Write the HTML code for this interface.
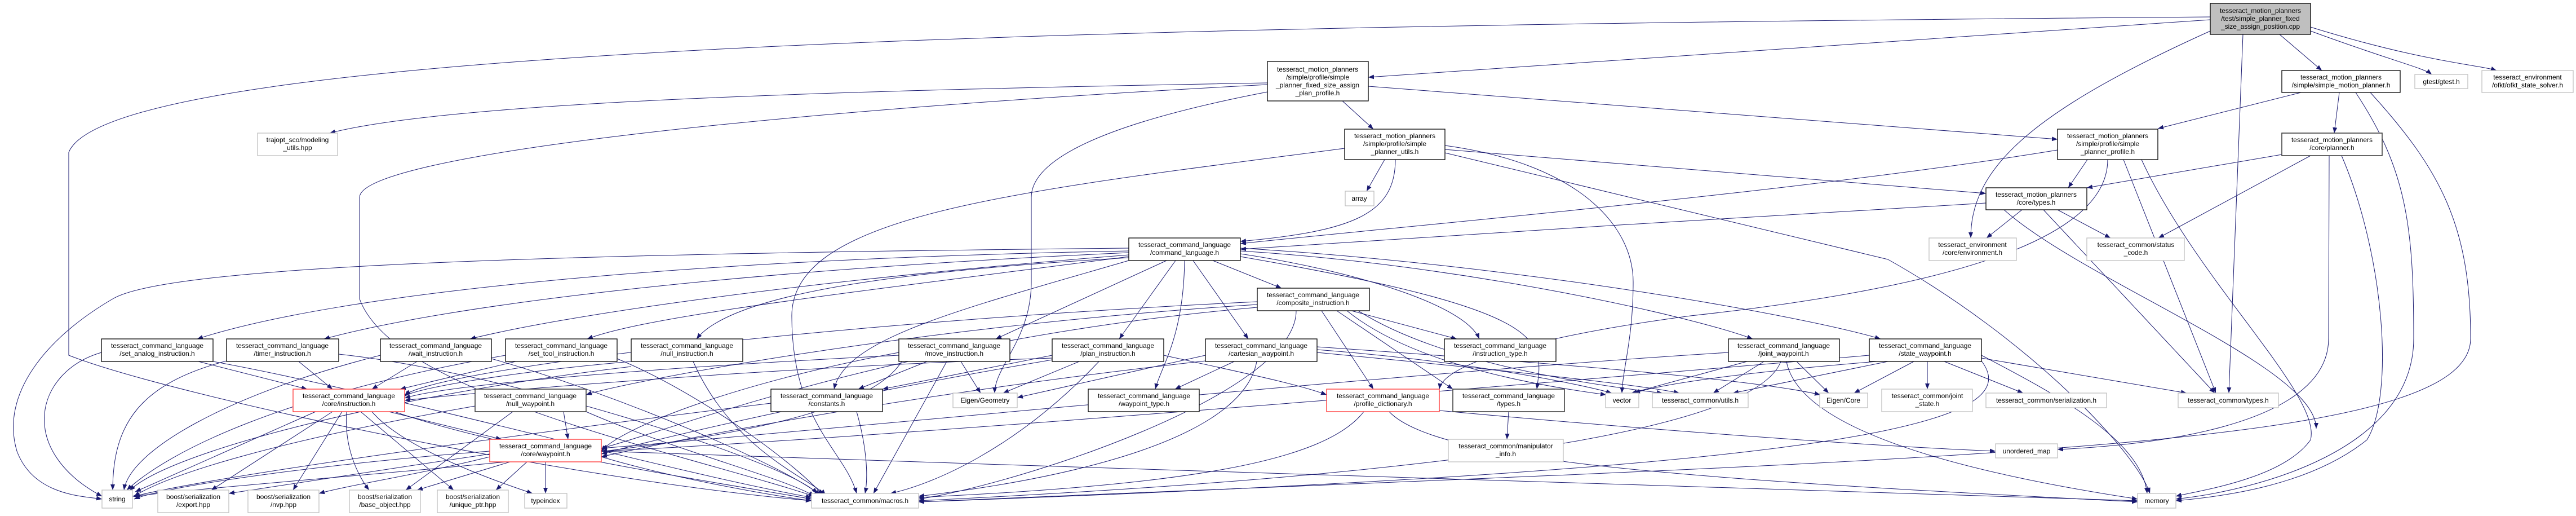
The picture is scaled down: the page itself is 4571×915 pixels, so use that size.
<!DOCTYPE html>
<html><head><meta charset="utf-8"><style>
html,body{margin:0;padding:0;background:#fff;}
svg{display:block;}
text{font-family:"Liberation Sans",Arial,sans-serif;font-size:12px;fill:#000;text-anchor:middle;}
.n{fill:#fff;stroke:#000;stroke-width:1.3;}
.g{fill:#fff;stroke:#bfbfbf;stroke-width:1.3;}
.r{fill:#fff;stroke:#ff3030;stroke-width:1.3;}
.d{fill:#fff;stroke:#404040;stroke-width:1.6;}
.e path{fill:none;stroke:#191970;stroke-width:1;marker-end:url(#a);}
</style></head><body>
<svg width="4571" height="915" viewBox="0 0 4571 915" xmlns="http://www.w3.org/2000/svg">
<defs><marker id="a" markerWidth="10" markerHeight="8" refX="10" refY="4" orient="auto" markerUnits="userSpaceOnUse"><path d="M0,0 L10,4 L0,8z" fill="#191970"/></marker></defs>
<g class="e">
<path d="M3922,35 L2428,137"/>
<path d="M3922,30 C2000,45 200,80 122,270 L122,630 C300,700 1000,850 1440,888"/>
<path d="M3922,55 C3600,200 3497,300 3497,422"/>
<path d="M3980,61 L3955,697"/>
<path d="M4045,61 L4120,125"/>
<path d="M4100,55 C4250,110 4300,120 4315,132"/>
<path d="M4100,48 C4300,110 4400,115 4430,125"/>
<path d="M2382,179 L2437,229"/>
<path d="M2428,153 L3651,247"/>
<path d="M2249,147 C1500,160 800,180 585,236"/>
<path d="M2249,163 C1900,230 1830,300 1830,350 L1830,500 C1830,600 1765,650 1765,697"/>
<path d="M2249,150 C1300,200 638,280 638,350 L638,530 C700,700 1200,800 1445,880"/>
<path d="M2457,283 L2425,339"/>
<path d="M2476,283 C2476,380 2400,410 2201,428"/>
<path d="M2564,265 L3524,343"/>
<path d="M2386,263 C1800,340 1405,380 1405,560 C1405,750 1500,800 1520,875"/>
<path d="M2564,258 C2800,290 2898,400 2898,500 C2898,600 2880,650 2878,697"/>
<path d="M2564,271 L3350,460 C3600,600 3790,800 3815,875"/>
<path d="M4083,164 L3829,228"/>
<path d="M4151,164 L4142,236"/>
<path d="M4180,164 C4270,300 4283,400 4283,600 C4283,800 4000,870 3861,885"/>
<path d="M4206,164 C4330,300 4384,400 4384,600 C4384,800 3500,810 1630,890"/>
<path d="M4049,274 L3703,333"/>
<path d="M4100,276 L3830,422"/>
<path d="M4133,276 L4132,600 C4132,760 3800,790 3651,797"/>
<path d="M4155,276 C4230,450 4250,700 4200,780 C4100,860 3950,880 3861,888"/>
<path d="M3704,283 L3670,333"/>
<path d="M3651,266 C3200,340 2500,400 2201,432"/>
<path d="M3740,283 C3740,400 3550,500 3000,560 C2700,600 2560,650 2554,690"/>
<path d="M3768,283 L3932,697"/>
<path d="M3800,283 C3900,500 4120,700 4100,780 C4050,850 3900,870 3861,880"/>
<path d="M3588,372 L3525,422"/>
<path d="M3651,372 L3745,422"/>
<path d="M3626,372 L3930,697"/>
<path d="M3524,360 C3200,380 2500,420 2201,442"/>
<path d="M3556,372 C3700,500 4110,650 4110,760"/>
<path d="M2003,445 C1200,460 600,520 350,601"/>
<path d="M2003,448 C1300,480 800,540 575,601"/>
<path d="M2003,452 C1400,500 1000,560 834,601"/>
<path d="M2003,455 C1500,520 1150,560 1042,601"/>
<path d="M2003,457 C1600,480 1300,520 1236,601"/>
<path d="M2070,462 L1767,601"/>
<path d="M2086,462 L1986,601"/>
<path d="M2117,462 L2215,601"/>
<path d="M2152,462 L2274,511"/>
<path d="M2201,450 C2400,480 2600,540 2625,601"/>
<path d="M2201,445 C2600,470 3000,560 3110,601"/>
<path d="M2201,440 C2700,470 3200,560 3337,601"/>
<path d="M2003,462 C1700,550 1500,600 1480,690"/>
<path d="M2102,462 C2100,600 2060,650 2050,690"/>
<path d="M2201,455 C2750,550 2740,600 2727,690"/>
<path d="M2003,440 C1000,450 300,470 200,530 C80,600 0,700 30,800 C60,880 150,880 181,885"/>
<path d="M2398,551 L2585,601"/>
<path d="M2345,551 L2437,690"/>
<path d="M2372,551 L2578,690"/>
<path d="M2390,551 C2500,640 2700,680 2850,700"/>
<path d="M2410,551 C2550,640 2800,680 2950,697"/>
<path d="M2231,535 C1500,570 800,650 718,700"/>
<path d="M2231,540 C1600,580 1100,680 1040,700"/>
<path d="M2231,545 C1600,600 1200,760 1067,795"/>
<path d="M2300,551 C2300,700 1800,860 1630,885"/>
<path d="M352,641 L545,690"/>
<path d="M180,625 C60,660 30,800 181,880"/>
<path d="M378,641 C700,700 1200,840 1440,882"/>
<path d="M530,641 L590,690"/>
<path d="M402,640 C250,680 200,750 200,869"/>
<path d="M601,628 C900,660 1400,820 1450,875"/>
<path d="M740,641 L660,690"/>
<path d="M675,630 C400,700 230,800 220,869"/>
<path d="M872,636 C1100,700 1400,830 1455,878"/>
<path d="M915,641 L710,690"/>
<path d="M897,630 C500,700 300,800 225,869"/>
<path d="M1095,636 C1250,700 1420,830 1460,878"/>
<path d="M1120,641 C900,660 730,690 718,703"/>
<path d="M1230,641 C1300,800 1440,850 1465,878"/>
<path d="M1120,650 C700,700 300,800 230,870"/>
<path d="M1645,641 L1523,690"/>
<path d="M1705,641 L1740,697"/>
<path d="M1595,630 C1200,650 800,680 718,706"/>
<path d="M1595,625 C1300,680 1100,760 1067,800"/>
<path d="M1680,641 L1550,875"/>
<path d="M1600,641 C1500,800 800,820 235,880"/>
<path d="M1915,641 L1780,697"/>
<path d="M1867,630 L1566,690"/>
<path d="M1867,635 C1400,650 900,690 718,710"/>
<path d="M1867,638 C1500,700 1200,770 1067,805"/>
<path d="M1950,641 C1800,800 1650,860 1580,875"/>
<path d="M2065,630 C2200,660 2300,680 2354,700"/>
<path d="M2190,641 L2085,690"/>
<path d="M2139,630 L1805,705"/>
<path d="M2337,620 C2600,640 2800,680 2860,697"/>
<path d="M2337,615 C2700,640 3100,670 3230,700"/>
<path d="M2337,625 C2600,650 2900,680 2980,697"/>
<path d="M2139,640 C1600,700 1200,780 1067,810"/>
<path d="M2230,641 C2200,800 1800,860 1630,880"/>
<path d="M3100,641 L2895,697"/>
<path d="M3130,641 L3040,697"/>
<path d="M3188,641 L3245,697"/>
<path d="M3067,625 C2500,660 1500,760 1067,795"/>
<path d="M3160,641 C3100,800 2200,860 1630,888"/>
<path d="M3170,641 C3200,800 3700,870 3793,885"/>
<path d="M3330,641 C3100,660 2950,680 2900,697"/>
<path d="M3350,641 L3075,697"/>
<path d="M3396,641 L3290,697"/>
<path d="M3420,641 L3420,690"/>
<path d="M3450,641 L3590,697"/>
<path d="M3516,635 L3880,697"/>
<path d="M3516,630 C3650,700 3800,780 3810,875"/>
<path d="M3516,640 C3600,750 3300,830 1630,890"/>
<path d="M3317,630 C2500,700 1500,780 1067,800"/>
<path d="M560,730 L240,872"/>
<path d="M590,730 L375,869"/>
<path d="M607,730 L520,869"/>
<path d="M615,730 C610,800 640,850 655,869"/>
<path d="M640,730 L805,869"/>
<path d="M660,730 C720,800 900,860 945,875"/>
<path d="M690,730 L890,779"/>
<path d="M700,730 C900,800 1300,860 1440,885"/>
<path d="M1000,730 L1008,779"/>
<path d="M910,730 L720,869"/>
<path d="M1040,730 C1200,800 1400,850 1445,880"/>
<path d="M843,720 C500,780 300,840 238,880"/>
<path d="M869,800 C600,820 300,860 238,885"/>
<path d="M869,805 C700,830 500,860 406,875"/>
<path d="M869,810 C750,840 620,860 566,875"/>
<path d="M905,819 L740,869"/>
<path d="M935,819 L880,869"/>
<path d="M968,819 L968,875"/>
<path d="M1067,810 C1200,850 1380,880 1440,888"/>
<path d="M1067,800 C2000,830 3000,870 3793,888"/>
<path d="M2677,730 L2674,779"/>
<path d="M2554,728 C2900,760 3300,790 3541,800"/>
<path d="M2420,730 C2350,820 2100,860 1630,882"/>
<path d="M2465,730 C2550,820 3000,850 3793,890"/>
<path d="M1520,730 C1540,800 1540,850 1535,875"/>
<path d="M1368,715 C1000,760 400,840 238,880"/>
</g>
<!-- nodes -->
<rect class="n" x="3922" y="6" width="178" height="55" style="fill:#bfbfbf"/>
<text x="4011" y="23">tesseract_motion_planners</text><text x="4011" y="37">/test/simple_planner_fixed</text><text x="4011" y="51">_size_assign_position.cpp</text>
<rect class="n" x="4049" y="125" width="210" height="39"/>
<text x="4154" y="141">tesseract_motion_planners</text><text x="4154" y="155">/simple/simple_motion_planner.h</text>
<rect class="g" x="4285" y="132" width="94" height="25"/><text x="4332" y="149">gtest/gtest.h</text>
<rect class="g" x="4404" y="125" width="162" height="39"/>
<text x="4485" y="141">tesseract_environment</text><text x="4485" y="155">/ofkt/ofkt_state_solver.h</text>
<rect class="n" x="3651" y="229" width="178" height="54"/>
<text x="3740" y="245">tesseract_motion_planners</text><text x="3740" y="259">/simple/profile/simple</text><text x="3740" y="273">_planner_profile.h</text>
<rect class="d" x="4049" y="236" width="178" height="40"/>
<text x="4138" y="252">tesseract_motion_planners</text><text x="4138" y="266">/core/planner.h</text>
<rect class="n" x="3524" y="333" width="179" height="39"/>
<text x="3613" y="349">tesseract_motion_planners</text><text x="3613" y="363">/core/types.h</text>
<rect class="g" x="3423" y="422" width="155" height="40"/>
<text x="3500" y="438">tesseract_environment</text><text x="3500" y="452">/core/environment.h</text>
<rect class="g" x="3703" y="422" width="173" height="40"/>
<text x="3790" y="438">tesseract_common/status</text><text x="3790" y="452">_code.h</text>
<rect class="n" x="2249" y="109" width="179" height="70"/>
<text x="2338" y="127">tesseract_motion_planners</text><text x="2338" y="141">/simple/profile/simple</text><text x="2338" y="155">_planner_fixed_size_assign</text><text x="2338" y="169">_plan_profile.h</text>
<rect class="n" x="2386" y="229" width="178" height="54"/>
<text x="2475" y="245">tesseract_motion_planners</text><text x="2475" y="259">/simple/profile/simple</text><text x="2475" y="273">_planner_utils.h</text>
<rect class="g" x="2387" y="339" width="51" height="26"/><text x="2412" y="356">array</text>
<rect class="g" x="457" y="236" width="142" height="40"/>
<text x="528" y="252">trajopt_sco/modeling</text><text x="528" y="266">_utils.hpp</text>
<rect class="n" x="2003" y="422" width="198" height="40"/>
<text x="2102" y="438">tesseract_command_language</text><text x="2102" y="452">/command_language.h</text>
<rect class="n" x="2231" y="511" width="199" height="40"/>
<text x="2330" y="527">tesseract_command_language</text><text x="2330" y="541">/composite_instruction.h</text>
<rect class="n" x="180" y="601" width="198" height="40"/>
<text x="279" y="617">tesseract_command_language</text><text x="279" y="631">/set_analog_instruction.h</text>
<rect class="n" x="402" y="601" width="199" height="40"/>
<text x="501" y="617">tesseract_command_language</text><text x="501" y="631">/timer_instruction.h</text>
<rect class="n" x="675" y="601" width="197" height="40"/>
<text x="773" y="617">tesseract_command_language</text><text x="773" y="631">/wait_instruction.h</text>
<rect class="n" x="897" y="601" width="198" height="40"/>
<text x="996" y="617">tesseract_command_language</text><text x="996" y="631">/set_tool_instruction.h</text>
<rect class="n" x="1120" y="601" width="198" height="40"/>
<text x="1219" y="617">tesseract_command_language</text><text x="1219" y="631">/null_instruction.h</text>
<rect class="n" x="1595" y="601" width="197" height="40"/>
<text x="1693" y="617">tesseract_command_language</text><text x="1693" y="631">/move_instruction.h</text>
<rect class="n" x="1867" y="601" width="198" height="40"/>
<text x="1966" y="617">tesseract_command_language</text><text x="1966" y="631">/plan_instruction.h</text>
<rect class="n" x="2139" y="601" width="198" height="40"/>
<text x="2238" y="617">tesseract_command_language</text><text x="2238" y="631">/cartesian_waypoint.h</text>
<rect class="n" x="2563" y="601" width="198" height="40"/>
<text x="2662" y="617">tesseract_command_language</text><text x="2662" y="631">/instruction_type.h</text>
<rect class="n" x="3067" y="601" width="197" height="40"/>
<text x="3165" y="617">tesseract_command_language</text><text x="3165" y="631">/joint_waypoint.h</text>
<rect class="n" x="3317" y="601" width="199" height="40"/>
<text x="3416" y="617">tesseract_command_language</text><text x="3416" y="631">/state_waypoint.h</text>
<rect class="r" x="520" y="690" width="198" height="40"/>
<text x="619" y="706">tesseract_command_language</text><text x="619" y="720">/core/instruction.h</text>
<rect class="d" x="843" y="690" width="197" height="40"/>
<text x="941" y="706">tesseract_command_language</text><text x="941" y="720">/null_waypoint.h</text>
<rect class="n" x="1368" y="690" width="198" height="40"/>
<text x="1467" y="706">tesseract_command_language</text><text x="1467" y="720">/constants.h</text>
<rect class="g" x="1691" y="697" width="114" height="26"/><text x="1748" y="714">Eigen/Geometry</text>
<rect class="n" x="1931" y="690" width="197" height="40"/>
<text x="2030" y="706">tesseract_command_language</text><text x="2030" y="720">/waypoint_type.h</text>
<rect class="r" x="2354" y="690" width="200" height="40"/>
<text x="2454" y="706">tesseract_command_language</text><text x="2454" y="720">/profile_dictionary.h</text>
<rect class="d" x="2578" y="690" width="198" height="40"/>
<text x="2677" y="706">tesseract_command_language</text><text x="2677" y="720">/types.h</text>
<rect class="g" x="2849" y="697" width="59" height="26"/><text x="2878" y="714">vector</text>
<rect class="g" x="2932" y="697" width="170" height="26"/><text x="3017" y="714">tesseract_common/utils.h</text>
<rect class="g" x="3229" y="697" width="85" height="26"/><text x="3271" y="714">Eigen/Core</text>
<rect class="g" x="3339" y="690" width="161" height="40"/>
<text x="3420" y="706">tesseract_common/joint</text><text x="3420" y="720">_state.h</text>
<rect class="g" x="3524" y="697" width="214" height="26"/><text x="3631" y="714">tesseract_common/serialization.h</text>
<rect class="g" x="3865" y="697" width="178" height="26"/><text x="3954" y="714">tesseract_common/types.h</text>
<rect class="r" x="869" y="779" width="198" height="40"/>
<text x="968" y="795">tesseract_command_language</text><text x="968" y="809">/core/waypoint.h</text>
<rect class="g" x="2570" y="779" width="204" height="40"/>
<text x="2672" y="795">tesseract_common/manipulator</text><text x="2672" y="809">_info.h</text>
<rect class="g" x="3541" y="787" width="110" height="25"/><text x="3596" y="804">unordered_map</text>
<rect class="g" x="181" y="869" width="54" height="32"/><text x="208" y="889">string</text>
<rect class="g" x="280" y="869" width="126" height="40"/>
<text x="343" y="885">boost/serialization</text><text x="343" y="899">/export.hpp</text>
<rect class="g" x="440" y="869" width="126" height="40"/>
<text x="503" y="885">boost/serialization</text><text x="503" y="899">/nvp.hpp</text>
<rect class="g" x="620" y="869" width="126" height="40"/>
<text x="683" y="885">boost/serialization</text><text x="683" y="899">/base_object.hpp</text>
<rect class="g" x="776" y="869" width="126" height="40"/>
<text x="839" y="885">boost/serialization</text><text x="839" y="899">/unique_ptr.hpp</text>
<rect class="g" x="931" y="875" width="75" height="26"/><text x="968" y="892">typeindex</text>
<rect class="g" x="1440" y="875" width="190" height="26"/><text x="1535" y="892">tesseract_common/macros.h</text>
<rect class="g" x="3793" y="875" width="68" height="26"/><text x="3827" y="892">memory</text>
</svg>
</body></html>
